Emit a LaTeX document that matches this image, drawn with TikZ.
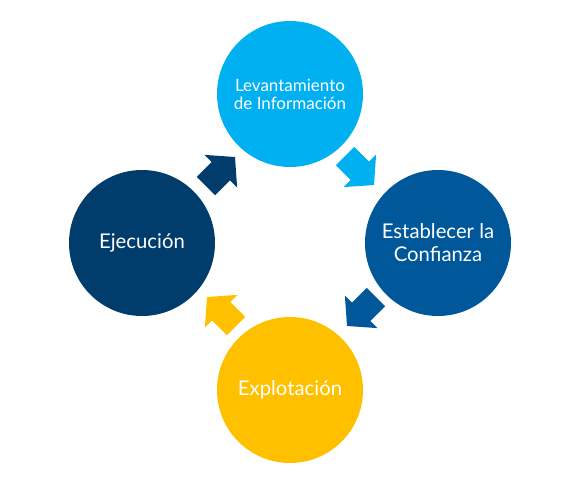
\documentclass[tikz,border=0pt]{standalone}
\usepackage{fontspec}
\setmainfont{Lato}
\definecolor{cLight}{HTML}{00B0F0}
\definecolor{cMid}{HTML}{00589B}
\definecolor{cDark}{HTML}{003D6C}
\definecolor{cGold}{HTML}{FFC000}
\begin{document}
\begin{tikzpicture}[x=1pt,y=-1pt,
  circ/.style={circle, minimum size=146pt, inner sep=0pt, text=white, align=center},
  smalltxt/.style={font=\fontsize{17}{18}\selectfont},
  bigtxt/.style={font=\fontsize{20.3}{23}\selectfont}]
\useasboundingbox (0,0) rectangle (582,499);
\node[circ, fill=cLight, smalltxt] (lev) at (290,94) {Levantamiento\\de Información};
\node[circ, fill=cMid, bigtxt] (est) at (438,243) {Establecer la\\Confianza};
\node[circ, fill=cGold, bigtxt] (exp) at (290,390) {Explotación};
\node[circ, fill=cDark, bigtxt] (eje) at (142,243) {Ejecución};
\coordinate (a1) at (345,156);
\coordinate (a2) at (376,297);
\coordinate (a3) at (236,326);
\coordinate (a4) at (206,186);
\def\arrowpath{(0,-13) -- (21,-13) -- (21,-23) -- (41,0) -- (21,23) -- (21,13) -- (0,13) -- cycle}
\fill[cLight, shift={(a1)}, rotate=-45] \arrowpath;
\fill[cMid, shift={(a2)}, rotate=-135] \arrowpath;
\fill[cGold, shift={(a3)}, rotate=135] \arrowpath;
\fill[cDark, shift={(a4)}, rotate=45] \arrowpath;
\end{tikzpicture}
\end{document}
